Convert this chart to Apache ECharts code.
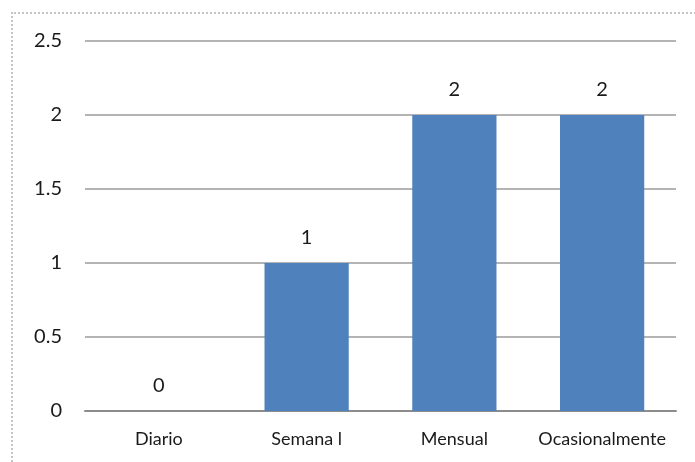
<!DOCTYPE html>
<html>
<head>
<meta charset="utf-8">
<script src="https://cdn.jsdelivr.net/npm/echarts@6/dist/echarts.min.js"></script>
<style>
  html, body { margin: 0; padding: 0; background: #fff; }
  #frame {
    position: absolute; left: 11px; top: 12px; width: 690px; height: 460px;
    border-left: 2px dotted #c4c4c4; border-top: 2px dotted #c4c4c4;
  }
  #chart { position: absolute; left: 0; top: 0; width: 695px; height: 462px; }
</style>
</head>
<body>
<div id="frame"></div>
<div id="chart"></div>
<script>
// Frequency categories and counts
const categories = ['Diario', 'Semana l', 'Mensual', 'Ocasionalmente'];
const counts = [0, 1, 2, 2];
const yMin = 0, yMax = 2.5, yStep = 0.5;

const chart = echarts.init(document.getElementById('chart'), null, { renderer: 'canvas' });
chart.setOption({
  animation: false,
  grid: { left: 85, right: 19, top: 41, bottom: 51, containLabel: false },
  xAxis: {
    type: 'category',
    data: categories,
    axisLine: { lineStyle: { color: '#8c8c8c', width: 2 } },
    axisTick: { show: false },
    axisLabel: {
      interval: 0, hideOverlap: false,
      color: '#1a1a1a', fontFamily: 'Lato', fontSize: 18, margin: 19
    }
  },
  yAxis: {
    type: 'value',
    min: yMin, max: yMax, interval: yStep,
    axisLine: { show: false },
    axisTick: { show: false },
    splitLine: { lineStyle: { color: '#b4b4b4', width: 2 } },
    axisLabel: {
      color: '#1a1a1a', fontFamily: 'Lato', fontSize: 20, margin: 23,
      formatter: v => String(v)
    }
  },
  series: [{
    type: 'bar',
    data: counts,
    barWidth: '57%',
    itemStyle: { color: '#4f81bd' },
    label: {
      show: true, position: 'top', distance: 15,
      color: '#1a1a1a', fontFamily: 'Lato', fontSize: 20
    }
  }]
});
</script>
</body>
</html>
